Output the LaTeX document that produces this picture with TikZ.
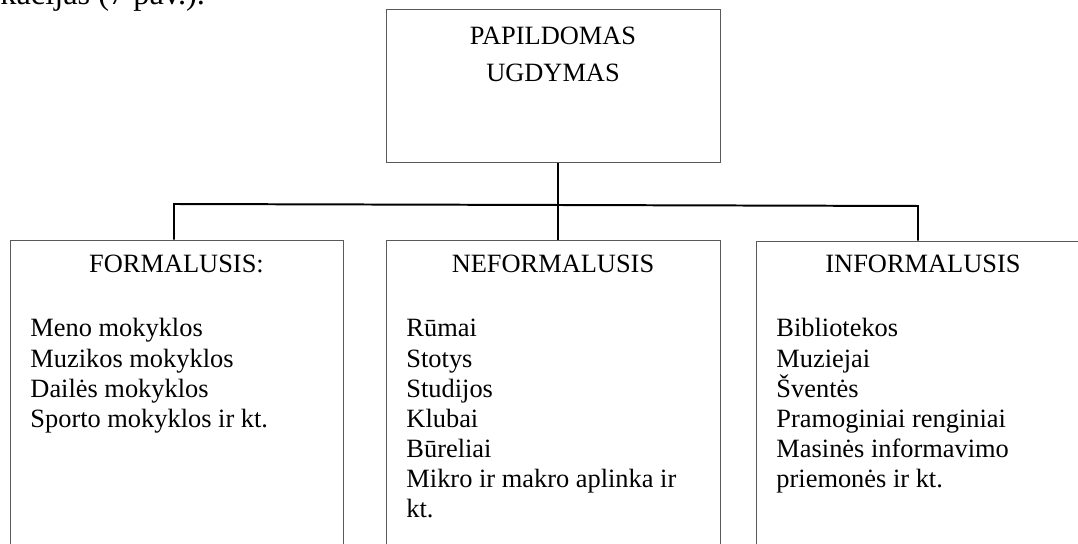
\documentclass[tikz,border=0pt]{standalone}
\usepackage{fontspec}
\setmainfont{Liberation Serif}
\usetikzlibrary{fit}
\begin{document}
\begin{tikzpicture}[x=0.4545pt,y=-0.4545pt,
  box/.style={draw=black!65, line width=0.45pt, inner sep=0pt},
  conn/.style={draw=black, line width=0.9pt},
  body/.style={font=\fontsize{12}{13.64}\selectfont, inner sep=0pt},
  list/.style={body, anchor=base west}
]
\useasboundingbox (0,0) rectangle (1078,544);
\clip (0,0) rectangle (1078,544);
% preceding text line, cut by the top edge
\node[anchor=base west, inner sep=0pt, font=\fontsize{14.7}{16}\selectfont] (prev) at (0,5) {kacijas (7 pav.).};
% boxes
\node[box, fit={(386,10) (720,163)}] (T) {};
\node[box, fit={(10,240) (343,570)}] (L) {};
\node[box, fit={(386,240) (720,570)}] (M) {};
\node[box, fit={(756,241) (1090,570)}] (R) {};
% top text
\node[body, anchor=base] (t1) at (553,45) {PAPILDOMAS};
\node[body, anchor=base] (t2) at (553,82) {UGDYMAS};
% headers
\node[body, anchor=base] (lh) at (176.5,273) {FORMALUSIS:};
\node[body, anchor=base] (mh) at (553,273) {NEFORMALUSIS};
\node[body, anchor=base] (rh) at (923,273) {INFORMALUSIS};
% lists
\node[list] (li) at (30,337) {\parbox[t]{140pt}{\raggedright Meno mokyklos\\Muzikos mokyklos\\Dailės mokyklos\\Sporto mokyklos ir kt.}};
\node[list] (mi) at (406,337) {\parbox[t]{140pt}{\raggedright Rūmai\\Stotys\\Studijos\\Klubai\\Būreliai\\Mikro ir makro aplinka ir\\kt.}};
\node[list] (ri) at (776,337) {\parbox[t]{140pt}{\raggedright Bibliotekos\\Muziejai\\Šventės\\Pramoginiai renginiai\\Masinės informavimo\\priemonės ir kt.}};
% connectors
\coordinate (hl) at (174,204);
\coordinate (hm) at (558,205);
\coordinate (hr) at (918,206);
\draw[conn] (L.north -| hl) -- (hl) -- (hm) -- (hr) -- (R.north -| hr);
\draw[conn] (T.south -| hm) -- (M.north -| hm);
\end{tikzpicture}
\end{document}
